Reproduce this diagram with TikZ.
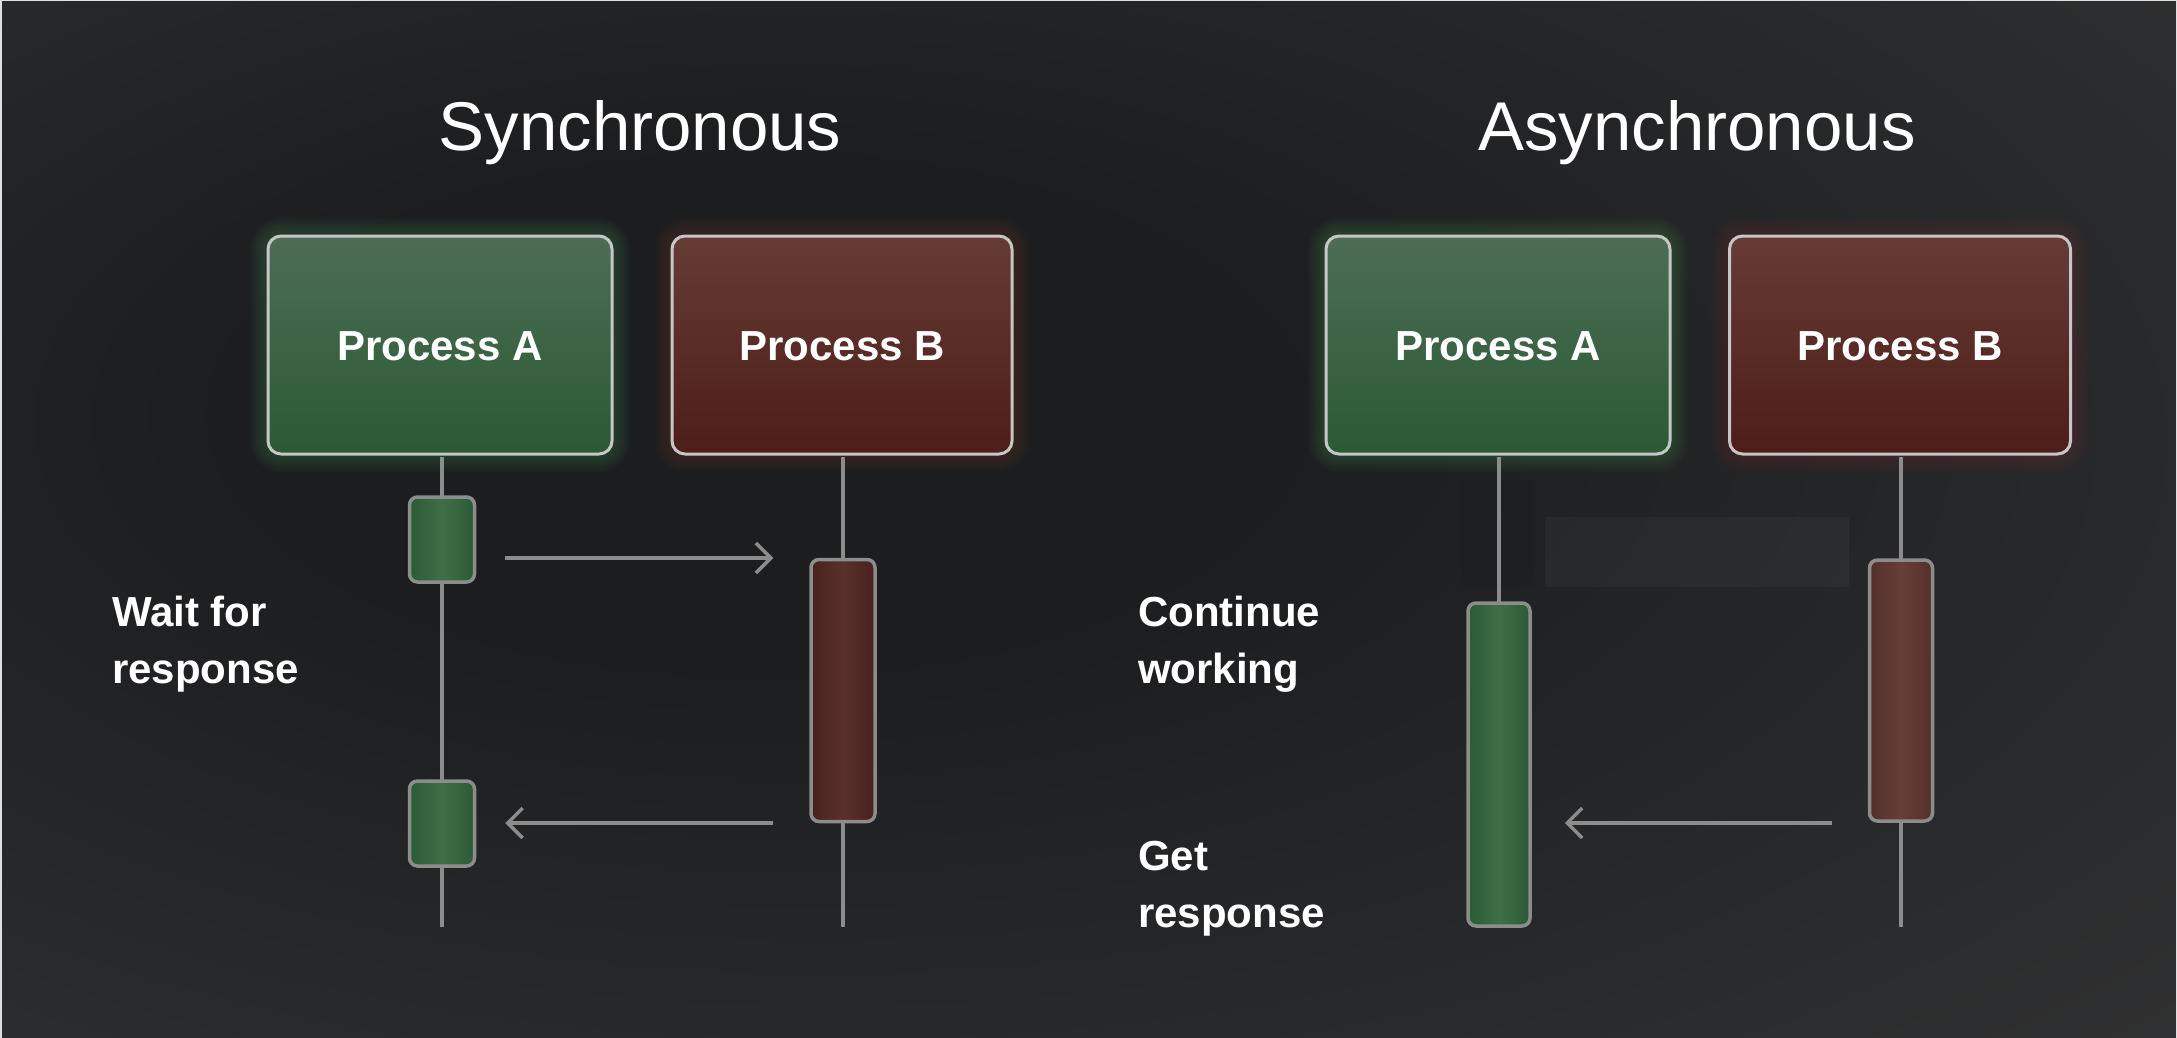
\documentclass[tikz,border=0pt]{standalone}
\usepackage{fontspec}
\setmainfont{Liberation Sans}
\usetikzlibrary{arrows.meta}

\definecolor{bgin}{HTML}{1C1D1F}
\definecolor{bgmid}{HTML}{2B2C2D}
\definecolor{bgout}{HTML}{3A3A3A}
\definecolor{boxedge}{HTML}{C6C6C6}
\definecolor{gAtop}{HTML}{4D6D55}
\definecolor{gAbot}{HTML}{2A5A34}
\definecolor{rBtop}{HTML}{663B36}
\definecolor{rBbot}{HTML}{4D1D19}
\definecolor{linegray}{HTML}{8C8C8C}
\definecolor{actG}{HTML}{2B5B34}
\definecolor{actGmid}{HTML}{3F6E47}
\definecolor{actR}{HTML}{47211D}
\definecolor{actRmid}{HTML}{5A302B}
\definecolor{actRb}{HTML}{54302B}
\definecolor{actRbmid}{HTML}{673E38}
\definecolor{glowG}{HTML}{3E7C4A}
\definecolor{glowR}{HTML}{7A3A30}

% dark centre, lighter edges
\pgfdeclareradialshading{vignette}{\pgfpoint{-9bp}{6bp}}{%
  color(0bp)=(bgin); color(12bp)=(bgin); color(34bp)=(bgmid); color(56bp)=(bgout); color(80bp)=(bgout)}

% soft halo around a box given by its corners
\newcommand\halo[6]{%
  \foreach \k [evaluate=\k as \r using 13+2*\k, evaluate=\k as \d using 2*\k] in {1,...,9}
    \fill[#5, opacity=#6, rounded corners=\r pt]
      (#1-\d, #2-\d) rectangle (#3+\d, #4+\d);}

\tikzset{
  procbox/.style={draw=boxedge, line width=3pt, rounded corners=13pt,
    minimum width=344pt, minimum height=218pt, inner sep=0pt,
    text height=30pt, text depth=0pt,
    font=\bfseries\fontsize{42}{50}\selectfont, text=white},
  procA/.style={procbox, top color=gAtop, bottom color=gAbot},
  procB/.style={procbox, top color=rBtop, bottom color=rBbot},
  act/.style={draw=linegray, line width=3.5pt, rounded corners=8pt, inner sep=0pt},
  actA/.style={act, left color=actG, right color=actG, middle color=actGmid},
  actB/.style={act, left color=actR, right color=actR, middle color=actRmid},
  actBb/.style={act, left color=actRb, right color=actRb, middle color=actRbmid},
  lifeline/.style={draw=linegray, line width=3.5pt},
  msg/.style={draw=linegray, line width=3.5pt,
    -{Straight Barb[length=15pt, width=30pt, line width=3.5pt]}},
  title/.style={font=\fontsize{69}{80}\selectfont, text=white, inner sep=0pt},
  lbl/.style={font=\bfseries\fontsize{42}{57}\selectfont, text=white,
    align=left, inner sep=0pt},
}

\begin{document}
\begin{tikzpicture}[x=1pt, y=-1pt]
  \useasboundingbox (0,0) rectangle (2177,1038);
  \shade[shading=vignette] (0,0) rectangle (2177,1038);
  \draw[white!75!gray, line width=3pt] (0,1038) -- (0,0) -- (2177,0) -- (2177,1038);

  % faint panels behind the asynchronous lanes
  \fill[black, opacity=0.05] (1461,480) rectangle (1533,587);
  \fill[white, opacity=0.035] (1545,517) rectangle (1849,587);

  % titles
  \node[title, anchor=base] (tsync)  at (640,151)  {Synchronous};
  \node[title, anchor=base] (tasync) at (1697,151) {Asynchronous};

  % halos of the process boxes
  \halo{268}{236}{612}{454}{glowG}{0.05}
  \halo{672}{236}{1012}{454}{glowR}{0.04}
  \halo{1326}{236}{1670}{454}{glowG}{0.05}
  \halo{1729}{236}{2070}{454}{glowR}{0.04}

  % process boxes
  \node[procA] (sA) at (440,345) {Process A};
  \node[procB, minimum width=340pt] (sB) at (842,345) {Process B};
  \node[procA] (aA) at (1498,345) {Process A};
  \node[procB, minimum width=341pt] (aB) at (1900,345) {Process B};

  % lifeline ends
  \coordinate (sAend) at (442,927);
  \coordinate (sBend) at (843,927);
  \coordinate (aAend) at (1499,928);
  \coordinate (aBend) at (1901,927);

  \draw[lifeline, shorten <=1.5pt] (sA.south -| sAend) -- (sAend);
  \draw[lifeline, shorten <=1.5pt] (sB.south -| sBend) -- (sBend);
  \draw[lifeline, shorten <=1.5pt] (aA.south -| aAend) -- (aAend);
  \draw[lifeline, shorten <=1.5pt] (aB.south -| aBend) -- (aBend);

  % activations
  \node[actA, minimum width=65pt, minimum height=85pt]  (sa1) at (442,539.5) {};
  \node[actA, minimum width=65pt, minimum height=85pt]  (sa2) at (442,823.5) {};
  \node[actB, minimum width=64pt, minimum height=262pt] (sb1) at (843,690.5) {};
  \node[actA, minimum width=62pt, minimum height=323pt] (aa1) at (1499,764.5) {};
  \node[actBb, minimum width=63pt, minimum height=261pt] (ab1) at (1901,690.5) {};

  % messages
  \coordinate (req) at (0,558);
  \coordinate (resp) at (0,823);
  \draw[msg, shorten <=29pt, shorten >=36pt] (sa1.east |- req) -- (sb1.west |- req);
  \draw[msg, shorten <=36pt, shorten >=29pt] (sb1.west |- resp) -- (sa2.east |- resp);
  \draw[msg, shorten <=36pt, shorten >=33pt] (ab1.west |- resp) -- (aa1.east |- resp);

  % side notes
  \node[lbl, anchor=north west] (wait) at (112,596) {Wait for\\response};
  \node[lbl, anchor=north west] (cont) at (1138,596) {Continue\\working};
  \node[lbl, anchor=north west] (get)  at (1138,841) {Get\\response};
\end{tikzpicture}
\end{document}
